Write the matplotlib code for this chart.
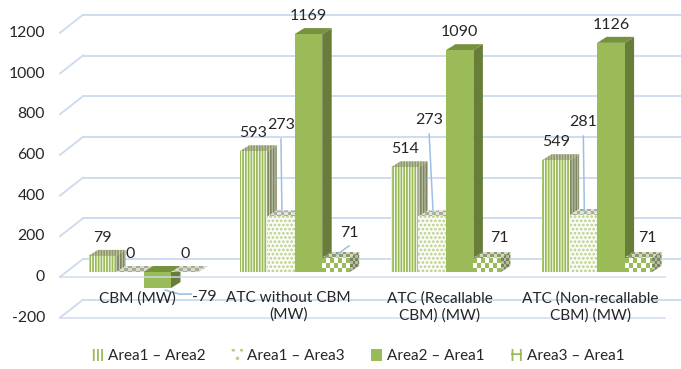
import matplotlib
matplotlib.use("Agg")
import numpy as np
import matplotlib.pyplot as plt
from matplotlib.patches import Polygon, Patch
from matplotlib.colors import to_rgb

# --- data ---
categories = ["CBM (MW)", "ATC without CBM\n(MW)", "ATC (Recallable\nCBM) (MW)", "ATC (Non-recallable\nCBM) (MW)"]
series_names = ["Area1 – Area2", "Area1 – Area3", "Area2 – Area1", "Area3 – Area1"]
area1_area2 = [79, 593, 514, 549]
area1_area3 = [0, 273, 273, 281]
area2_area1 = [-79, 1169, 1090, 1126]
area3_area1 = [0, 71, 71, 71]
y_ticks = [-200, 0, 200, 400, 600, 800, 1000, 1200]
series_values = [area1_area2, area1_area3, area2_area1, area3_area1]

plt.rcParams["font.family"] = ["Lato", "DejaVu Sans"]
plt.rcParams["hatch.linewidth"] = 1.3
TXT = "#262626"
GRID = "#CCDAEF"
LEADER = "#9DBFE3"
FS = 11.5

# pixel layout of the pseudo-3D view, converted to data units
W, H = 681, 369
X0_PX, CAT_PX = 143.5, 151.2      # first group centre, group spacing
ZERO_PX, VAL_PX = 272.0, 0.2035   # zero line of bar fronts, px per unit


def px_x(n):
    return n / CAT_PX


def px_y(n):
    return n / VAL_PX


bw = px_x(27.5)                 # bar width
dx, dy = px_x(9.5), px_y(6)     # bar depth
gf_x, gb_x = (60 - X0_PX) / CAT_PX, (83 - X0_PX) / CAT_PX
gf_dy, gb_dy = -px_y(5), px_y(13)
right_x = (W - X0_PX) / CAT_PX
floor_x = (665 - X0_PX) / CAT_PX
XLIM = (-X0_PX / CAT_PX, (W - X0_PX) / CAT_PX)
YLIM = (-(H - ZERO_PX) / VAL_PX, ZERO_PX / VAL_PX)

fig = plt.figure(figsize=(W / 100, H / 100), dpi=100)
ax = fig.add_axes([0, 0, 1, 1])
ax.axis("off")

# walls: side-wall diagonals and back-wall lines
for v in y_ticks:
    ax.plot([gf_x, gb_x], [v + gf_dy, v + gb_dy], color=GRID, lw=1.3, zorder=1)
    ax.plot([gb_x, right_x], [v + gb_dy, v + gb_dy], color=GRID, lw=1.3, zorder=1)
    ax.text(gf_x - px_x(15), v + gf_dy, str(v), ha="right", va="center",
            fontsize=11.3, color=TXT)
for v in (0, -200):
    ax.plot([gf_x, floor_x], [v + gf_dy, v + gf_dy], color=GRID, lw=1.3,
            zorder=30, alpha=0.8)

# face styles: (front, side, top)
#   ("hatch", face, hatch, hatchcolor) or ("check", colour1, colour2, cell w px, cell h px)
styles = [
    [("hatch", "white", "||||||", "#9BBB59"),
     ("hatch", "#C9CDB8", "||||||", "#7D8660"),
     ("hatch", "#C6CBAF", "||||||", "#8E9A6A")],
    [("hatch", "#FBFCF7", "....", "#B9D08A"),
     ("hatch", "#C8CCBA", "....", "#9EA38E"),
     ("check", "#E2E4DA", "#A9AE98", 3.5, 2.5)],
    [("hatch", "#9BBB59", None, None),
     ("hatch", "#687D3A", None, None),
     ("hatch", "#77923F", None, None)],
    [("check", "#9BBB59", "#FFFFFF", 4.0, 5.0),
     ("check", "#75845A", "#B5BCA0", 2.5, 3.0),
     ("check", "#8C9A6E", "#D4D9C4", 3.5, 2.5)],
]
zero_style = ("check", "#D8DBCF", "#A6AB96", 4.0, 2.5)


def face(pts, st, z):
    if st[0] == "hatch":
        _, fc, hatch, hc = st
        ax.add_patch(Polygon(pts, closed=True, facecolor=fc,
                             edgecolor=hc if hatch else fc, linewidth=0,
                             hatch=hatch, zorder=z))
        return
    _, c1, c2, cw, ch = st
    poly = Polygon(pts, closed=True, facecolor="none", edgecolor="none", zorder=z)
    ax.add_patch(poly)
    xs = [p[0] for p in pts]
    ys = [p[1] for p in pts]
    cwd, chd = px_x(cw), px_y(ch)
    nx = int(np.ceil((max(xs) - min(xs)) / cwd)) + 1
    ny = int(np.ceil((max(ys) - min(ys)) / chd)) + 1
    cells = np.add.outer(np.arange(ny), np.arange(nx)) % 2
    img = np.where(cells[..., None] == 0, to_rgb(c1), to_rgb(c2))
    x0, y1 = min(xs), max(ys)
    im = ax.imshow(img, extent=[x0, x0 + nx * cwd, y1 - ny * chd, y1],
                   origin="upper", interpolation="nearest", aspect="auto", zorder=z)
    im.set_clip_path(poly)


z = 2
bar_x = {}
for i in range(len(categories)):
    for j, vals in enumerate(series_values):
        v = vals[i]
        x0 = i - 2 * bw + j * bw
        x1 = x0 + bw
        bar_x[(j, i)] = x0 + bw / 2
        lo, hi = min(0, v), max(0, v)
        if v == 0:
            face([(x0, 0), (x1, 0), (x1 + dx, dy), (x0 + dx, dy)], zero_style, z)
        else:
            face([(x1, lo), (x1 + dx, lo + dy), (x1 + dx, hi + dy), (x1, hi)], styles[j][1], z)
            face([(x0, hi), (x1, hi), (x1 + dx, hi + dy), (x0 + dx, hi + dy)], styles[j][2], z + 1)
            face([(x0, lo), (x1, lo), (x1, hi), (x0, hi)], styles[j][0], z + 2)
        z += 3

# data labels; a few sit away from the bar with a leader line
label_pos = {
    (1, 1): (0.0, 722), (1, 2): (-px_x(3), 747), (1, 3): (0.0, 737),
    (3, 1): (px_x(13), 192), (3, 2): (px_x(12), 167), (3, 3): (px_x(9.5), 167),
    (2, 0): (px_x(47), -123),
}
for i in range(len(categories)):
    for j, vals in enumerate(series_values):
        v = vals[i]
        cx = bar_x[(j, i)]
        top = max(0, v)
        if (j, i) in label_pos:
            ox, ly = label_pos[(j, i)]
            ax.text(cx + ox, ly, str(v), ha="center", va="center", fontsize=FS,
                    color=TXT, zorder=60)
            if j == 1:
                ax.plot([cx + ox, cx + px_x(1)], [ly - px_y(14), top + dy / 2],
                        color=LEADER, lw=1.1, zorder=55)
            elif (j, i) == (3, 1):
                ax.plot([cx + ox, cx + px_x(1)], [ly - px_y(13), top + dy / 2],
                        color=LEADER, lw=1.1, zorder=55)
            elif (j, i) == (2, 0):
                ax.plot([cx + px_x(8), cx + px_x(22), cx + px_x(34)],
                        [v - px_y(2), v - px_y(6), v - px_y(6)],
                        color=LEADER, lw=1.2, zorder=55)
        else:
            ax.text(cx, top + dy + px_y(12), str(v), ha="center", va="center",
                    fontsize=FS, color=TXT, zorder=60)

# category labels on the front edge of the floor
for i, name in enumerate(categories):
    ax.text(i - px_x(6.4), -px_y(19), name, ha="center", va="top", fontsize=11.1,
            color=TXT, linespacing=1.25, zorder=60)

legend_faces = [
    dict(facecolor="white", edgecolor="#9BBB59", hatch="||||"),
    dict(facecolor="white", edgecolor="#B9D08A", hatch=".."),
    dict(facecolor="#9BBB59", edgecolor="#9BBB59"),
    dict(facecolor="white", edgecolor="#9BBB59", hatch="++"),
]
handles = [Patch(linewidth=0, **kw) for kw in legend_faces]
fig.legend(handles, series_names, loc="center", bbox_to_anchor=(358 / W, 1 - 356 / H),
           ncol=4, frameon=False, fontsize=11, handlelength=0.75, handleheight=0.8,
           handletextpad=0.3, columnspacing=1.7, labelcolor=TXT)

ax.set_xlim(*XLIM)
ax.set_ylim(*YLIM)
fig.savefig("out.png", dpi=100)
